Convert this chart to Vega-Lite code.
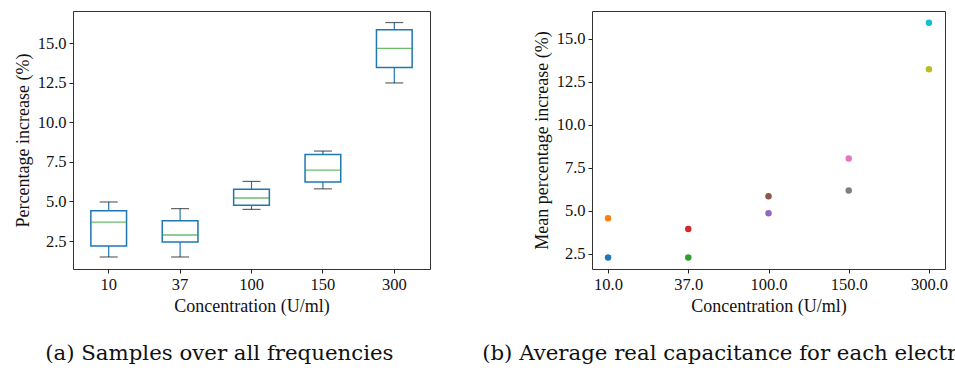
{
  "$schema": "https://vega.github.io/schema/vega-lite/v6.json",
  "padding": {"left": 13, "top": 10, "right": 0, "bottom": 0},
  "spacing": 50,
  "datasets": {
    "boxes": [
      {"conc": "10", "min": 1.49, "q1": 2.18, "median": 3.7, "q3": 4.42, "max": 4.97},
      {"conc": "37", "min": 1.49, "q1": 2.44, "median": 2.88, "q3": 3.78, "max": 4.55},
      {"conc": "100", "min": 4.5, "q1": 4.77, "median": 5.22, "q3": 5.77, "max": 6.27},
      {"conc": "150", "min": 5.8, "q1": 6.24, "median": 6.98, "q3": 7.97, "max": 8.19},
      {"conc": "300", "min": 12.5, "q1": 13.48, "median": 14.69, "q3": 15.86, "max": 16.32}
    ],
    "means": [
      {"conc": "10.0", "electrode": "E1", "mean": 2.28},
      {"conc": "10.0", "electrode": "E2", "mean": 4.56},
      {"conc": "37.0", "electrode": "E3", "mean": 2.28},
      {"conc": "37.0", "electrode": "E4", "mean": 3.93},
      {"conc": "100.0", "electrode": "E5", "mean": 4.85},
      {"conc": "100.0", "electrode": "E6", "mean": 5.84},
      {"conc": "150.0", "electrode": "E7", "mean": 8.03},
      {"conc": "150.0", "electrode": "E8", "mean": 6.17},
      {"conc": "300.0", "electrode": "E9", "mean": 13.23},
      {"conc": "300.0", "electrode": "E10", "mean": 15.93}
    ]
  },
  "hconcat": [
    {
      "width": 357,
      "height": 258,
      "title": {"text": "(a) Samples over all frequencies", "orient": "bottom", "anchor": "start", "dx": 31, "offset": 27},
      "data": {"name": "boxes"},
      "encoding": {
        "x": {"field": "conc", "type": "nominal", "sort": null, "scale": {"paddingInner": 0, "paddingOuter": 0}, "axis": {"title": "Concentration (U/ml)", "labelAngle": 0}}
      },
      "layer": [
        {
          "mark": {"type": "rule", "color": "#1f77b4", "strokeWidth": 1.2},
          "encoding": {
            "y": {"field": "q3", "type": "quantitative", "title": "Percentage increase (%)", "scale": {"domain": [0.73, 17.05], "nice": false, "zero": false}, "axis": {"values": [2.5, 5, 7.5, 10, 12.5, 15], "format": ".1f"}},
            "y2": {"field": "max"}
          }
        },
        {
          "mark": {"type": "rule", "color": "#1f77b4", "strokeWidth": 1.2},
          "encoding": {
            "y": {"field": "q1", "type": "quantitative", "title": "Percentage increase (%)"},
            "y2": {"field": "min"}
          }
        },
        {
          "mark": {"type": "bar", "width": {"band": 0.5}, "fill": "transparent", "stroke": "#1f77b4", "strokeWidth": 1.5},
          "encoding": {
            "y": {"field": "q1", "type": "quantitative", "title": "Percentage increase (%)"},
            "y2": {"field": "q3"}
          }
        },
        {
          "mark": {"type": "tick", "color": "#2ca02c", "size": 36, "thickness": 1.3},
          "encoding": {"y": {"field": "median", "type": "quantitative", "title": "Percentage increase (%)"}}
        },
        {
          "mark": {"type": "tick", "color": "#222222", "size": 18, "thickness": 1.2},
          "encoding": {"y": {"field": "max", "type": "quantitative", "title": "Percentage increase (%)"}}
        },
        {
          "mark": {"type": "tick", "color": "#222222", "size": 18, "thickness": 1.2},
          "encoding": {"y": {"field": "min", "type": "quantitative", "title": "Percentage increase (%)"}}
        }
      ]
    },
    {
      "width": 353,
      "height": 258,
      "title": {"text": "(b) Average real capacitance for each electrode", "orient": "bottom", "anchor": "start", "dx": -51, "offset": 27},
      "data": {"name": "means"},
      "mark": {"type": "circle", "size": 42, "opacity": 1},
      "encoding": {
        "x": {"field": "conc", "type": "ordinal", "sort": null, "scale": {"type": "point", "padding": 0.2}, "axis": {"title": "Concentration (U/ml)", "labelAngle": 0}},
        "y": {"field": "mean", "type": "quantitative", "scale": {"domain": [1.61, 16.61], "nice": false, "zero": false}, "axis": {"values": [2.5, 5, 7.5, 10, 12.5, 15], "format": ".1f", "title": "Mean percentage increase (%)"}},
        "color": {"field": "electrode", "type": "nominal", "sort": null, "scale": {"range": ["#1f77b4", "#ff7f0e", "#2ca02c", "#d62728", "#9467bd", "#8c564b", "#e377c2", "#7f7f7f", "#bcbd22", "#17becf"]}, "legend": null}
      }
    }
  ],
  "config": {
    "font": "Liberation Serif",
    "view": {"stroke": "#333333", "strokeWidth": 1},
    "axis": {"domain": false, "grid": false, "ticks": true, "tickColor": "#222222", "tickSize": 4, "labelPadding": 3, "labelFont": "Liberation Serif", "labelFontSize": 16.5, "labelColor": "#111111", "titleFont": "Liberation Serif", "titleFontSize": 18, "titleFontWeight": "normal", "titleColor": "#111111", "titlePadding": 5},
    "title": {"font": "DejaVu Serif", "fontSize": 21.3, "fontWeight": "normal", "color": "#111111"}
  }
}
